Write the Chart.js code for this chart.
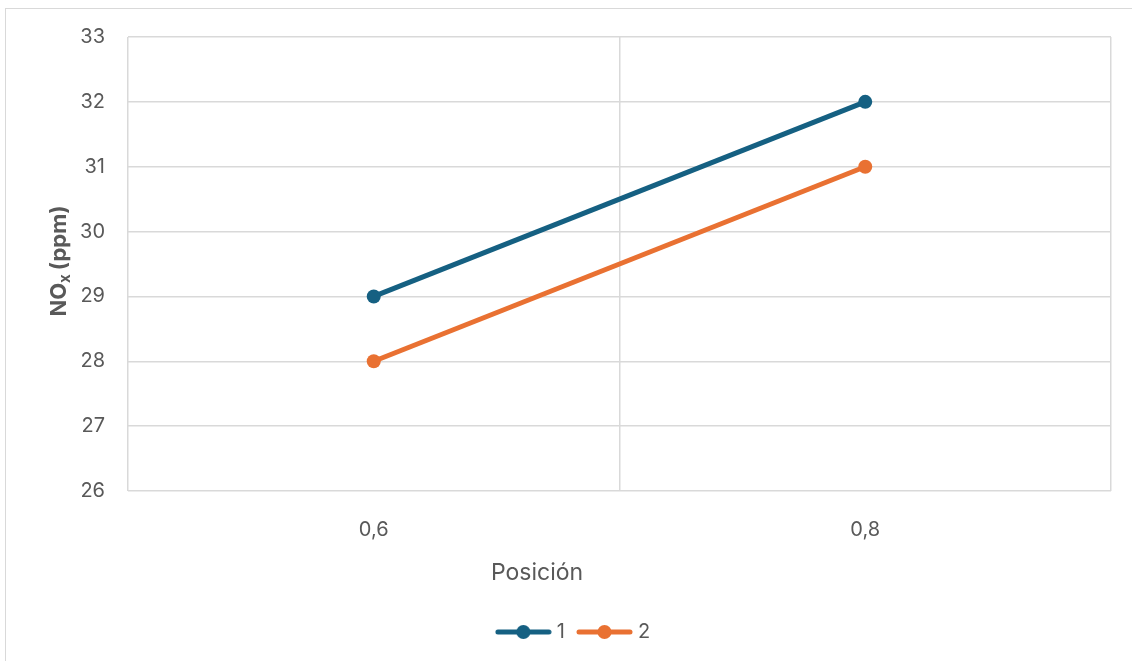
<!DOCTYPE html>
<html>
<head>
<meta charset="utf-8">
<script src="https://cdn.jsdelivr.net/npm/chart.js@4.4.1/dist/chart.umd.min.js"></script>
<style>
  html, body { margin: 0; padding: 0; background: #ffffff; overflow: hidden; }
  #frame { position: absolute; left: 5px; top: 8px; width: 1200px; height: 700px;
           border: 1.5px solid #d9d9d9; box-sizing: border-box; }
  #wrap { position: absolute; left: 0; top: 0; width: 1132px; height: 661px; }
</style>
</head>
<body>
<div id="frame"></div>
<div id="wrap"><canvas id="c" width="1132" height="661"></canvas></div>
<script>
// Posición categories and NOx readings (ppm)
const categories = ['0,6', '0,8'];
const serie1 = [29, 32];
const serie2 = [28, 31];
const seriesNames = ['1', '2'];
const yMin = 26, yMax = 33, yStep = 1;
const xTitle = 'Posición';

const BLUE = '#156082';
const ORANGE = '#E97132';
const TEXT = '#595959';
const GRID = '#d9d9d9';
const FONT = 'Inter, Roboto, "Liberation Sans", sans-serif';

// legend marker: short line with a dot in the middle
function legendMarker(color) {
  const w = 57, h = 16;
  const cv = document.createElement('canvas');
  cv.width = w; cv.height = h;
  const g = cv.getContext('2d');
  g.strokeStyle = color; g.lineWidth = 5; g.lineCap = 'round';
  g.beginPath(); g.moveTo(3, h / 2); g.lineTo(w - 3, h / 2); g.stroke();
  g.fillStyle = color;
  g.beginPath(); g.arc(w / 2, h / 2, 7, 0, Math.PI * 2); g.fill();
  return cv;
}

// axis titles: rotated y title with subscript "x", and the x title
const axisTitlesPlugin = {
  id: 'axisTitles',
  afterDraw(chart) {
    const ctx = chart.ctx;
    const area = chart.chartArea;
    ctx.save();
    // x title
    ctx.font = '23px ' + FONT;
    ctx.fillStyle = TEXT;
    ctx.textAlign = 'center';
    ctx.textBaseline = 'middle';
    ctx.fillText(xTitle, 537, 573);

    // y title
    const cy = (area.top + area.bottom) / 2 - 3;
    const cx = 58;
    const big = 'bold 22px ' + FONT;
    const small = 'bold 15px ' + FONT;
    ctx.font = big; const wNO = ctx.measureText('NO').width;
    const wP = ctx.measureText('(ppm)').width;
    ctx.font = small; const wX = ctx.measureText('x').width;
    const total = wNO + wX + 4 + wP;
    ctx.translate(cx, cy);
    ctx.rotate(-Math.PI / 2);
    ctx.textBaseline = 'alphabetic';
    ctx.textAlign = 'left';
    let x = -total / 2;
    const base = 8;
    ctx.font = big; ctx.fillText('NO', x, base); x += wNO;
    ctx.font = small; ctx.fillText('x', x, base + 4); x += wX + 4;
    ctx.font = big; ctx.fillText('(ppm)', x, base);
    ctx.restore();
  }
};

new Chart(document.getElementById('c'), {
  type: 'line',
  data: {
    labels: categories,
    datasets: [
      { label: seriesNames[0], data: serie1, borderColor: BLUE, backgroundColor: BLUE,
        borderWidth: 5, pointRadius: 7, pointHoverRadius: 7, pointBorderWidth: 0,
        pointStyle: 'circle', tension: 0 },
      { label: seriesNames[1], data: serie2, borderColor: ORANGE, backgroundColor: ORANGE,
        borderWidth: 5, pointRadius: 7, pointHoverRadius: 7, pointBorderWidth: 0,
        pointStyle: 'circle', tension: 0 }
    ]
  },
  options: {
    responsive: false,
    animation: false,
    layout: { padding: { left: 39, top: 37, right: 21, bottom: 9 } },
    plugins: {
      legend: {
        position: 'bottom',
        labels: {
          usePointStyle: true,
          pointStyleWidth: 47,
          padding: 16,
          color: TEXT,
          font: { family: FONT, size: 20 },
          generateLabels(chart) {
            return chart.data.datasets.map((ds, i) => ({
              text: ds.label, pointStyle: legendMarker(ds.borderColor),
              fillStyle: ds.borderColor, strokeStyle: ds.borderColor,
              lineWidth: 0, fontColor: TEXT, datasetIndex: i, hidden: false
            }));
          }
        }
      },
      tooltip: { enabled: false }
    },
    scales: {
      x: {
        type: 'category',
        offset: true,
        grid: { offset: true, color: GRID, lineWidth: 1.5, drawTicks: false },
        border: { display: false },
        ticks: { color: TEXT, font: { family: FONT, size: 20 }, padding: 27 },
        afterFit(scale) { scale.height = 115; }
      },
      y: {
        min: yMin, max: yMax,
        grid: { color: GRID, lineWidth: 1.5, drawTicks: false },
        border: { display: false },
        ticks: { stepSize: yStep, color: TEXT, font: { family: FONT, size: 20 }, padding: 23 },
        afterFit(scale) { scale.width = 89; }
      }
    }
  },
  plugins: [axisTitlesPlugin]
});
</script>
</body>
</html>
